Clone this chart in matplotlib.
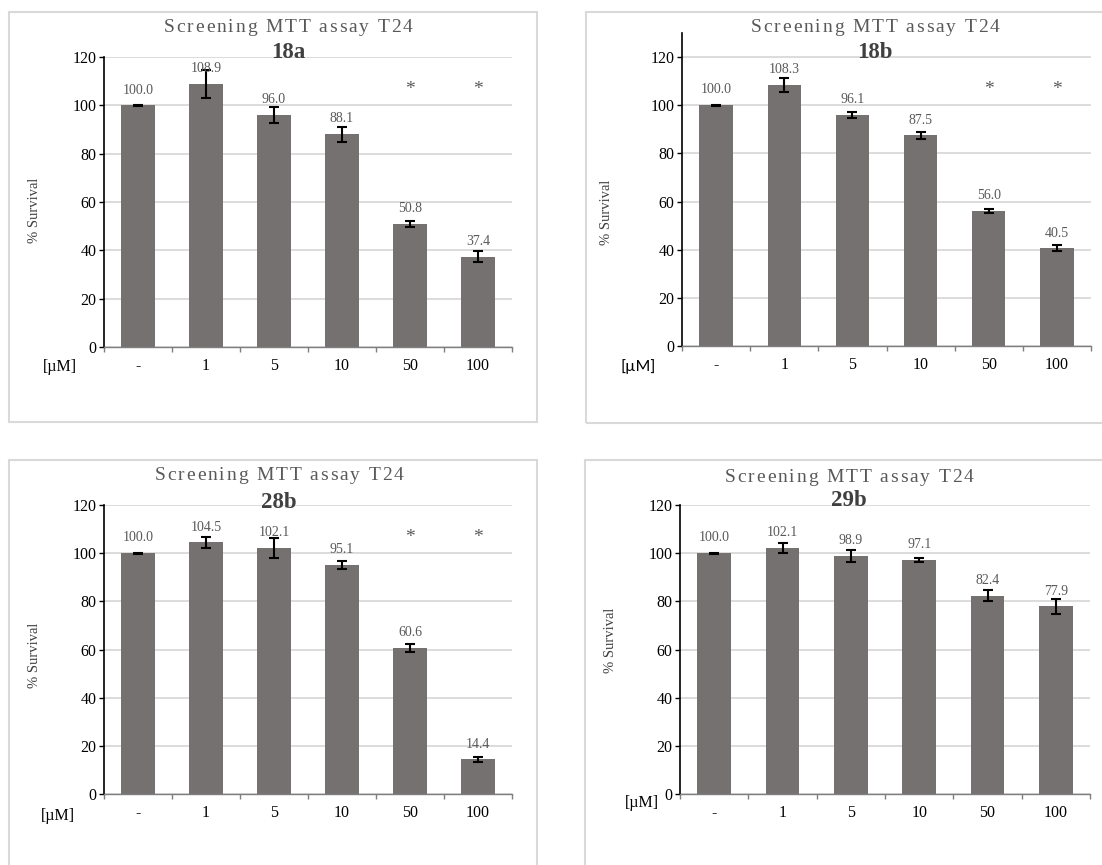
import matplotlib
matplotlib.use('Agg')
import matplotlib.pyplot as plt
from matplotlib.patches import Rectangle
from matplotlib.font_manager import FontProperties
import numpy as np

W, H = 1102, 865

# ---------------- data ----------------
categories = ['-', '1', '5', '10', '50', '100']
compounds = ['18a', '18b', '28b', '29b']
survival_18a = [100.0, 108.9, 96.0, 88.1, 50.8, 37.4]
error_18a = [0.2, 5.9, 3.4, 3.1, 1.2, 2.4]
survival_18b = [100.0, 108.3, 96.1, 87.5, 56.0, 40.5]
error_18b = [0.2, 2.9, 1.25, 1.5, 0.9, 1.25]
survival_28b = [100.0, 104.5, 102.1, 95.1, 60.6, 14.4]
error_28b = [0.2, 2.3, 4.0, 1.5, 1.75, 1.0]
survival_29b = [100.0, 102.1, 98.9, 97.1, 82.4, 77.9]
error_29b = [0.2, 2.2, 2.5, 0.9, 2.2, 3.25]
significant_18a = [False, False, False, False, True, True]
significant_18b = [False, False, False, False, True, True]
significant_28b = [False, False, False, False, True, True]
significant_29b = [False, False, False, False, False, False]
star_level = 104.5
y_ticks = [0, 20, 40, 60, 80, 100, 120]
title_text = 'Screening MTT assay T24'
y_label = '% Survival'
unit_label = '[\u00b5M]'

# ---------------- styles ----------------
BAR = '#767171'
GRID = '#d9d9d9'
FRAME = '#d9d9d9'
LBL = '#595959'
SERIF = 'Liberation Serif'

fig = plt.figure(figsize=(W / 100, H / 100), dpi=100)
renderer = fig.canvas.get_renderer()


def fx(px):
    return px / W


def fy(py):
    return 1 - py / H


def spaced_title(xc, yc, text, target_w, size, color):
    prop = FontProperties(family=SERIF, size=size)
    sent = '|'
    w_sent = renderer.get_text_width_height_descent(sent, prop, ismath=False)[0]
    pos = []
    for i in range(len(text)):
        w = renderer.get_text_width_height_descent(text[:i] + sent, prop, ismath=False)[0] - w_sent
        pos.append(w)
    total_nat = renderer.get_text_width_height_descent(text, prop, ismath=False)[0]
    n = len(text)
    spacing = (target_w - total_nat) / (n - 1)
    x0 = xc - target_w / 2
    for i, ch in enumerate(text):
        if ch == ' ':
            continue
        fig.text(fx(x0 + pos[i] + i * spacing), fy(yc), ch, fontproperties=prop,
                 color=color, ha='left', va='center')


panels = [
    dict(name='18a', vals=survival_18a, err=error_18a, sig=significant_18a,
         box=(104, 512, 347, 57), ymax=120, frame=(9, 12, 537, 422),
         title=(288, 27), sub=(288, 52), ylab=(35, 210), unit=(60, 367), unit_font=SERIF),
    dict(name='18b', vals=survival_18b, err=error_18b, sig=significant_18b,
         box=(682, 1091, 346, 33), ymax=130, frame=(586, 12, 1120, 423),
         title=(875, 28), sub=(875, 53), ylab=(607, 212), unit=(638, 367), unit_font='Lato'),
    dict(name='28b', vals=survival_28b, err=error_28b, sig=significant_28b,
         box=(104, 512, 794, 505), ymax=120, frame=(9, 460, 537, 890),
         title=(279, 475), sub=(279, 502), ylab=(35, 655), unit=(58, 816), unit_font=SERIF),
    dict(name='29b', vals=survival_29b, err=error_29b, sig=significant_29b,
         box=(680, 1090, 794, 505), ymax=120, frame=(585, 460, 1120, 890),
         title=(849, 477), sub=(849, 501), ylab=(610, 640), unit=(642, 803), unit_font=SERIF),
]

for p in panels:
    # frame
    x0, y0, x1, y1 = p['frame']
    fig.add_artist(Rectangle((fx(x0), fy(y1)), fx(x1 - x0), (y1 - y0) / H,
                             transform=fig.transFigure, fill=False,
                             edgecolor=FRAME, linewidth=1.5, zorder=0))
    l, r, b, t = p['box']
    ax = fig.add_axes([fx(l), fy(b), fx(r - l), (b - t) / H])
    ax.set_xlim(-0.5, 5.5)
    ax.set_ylim(0, p['ymax'])
    xs = np.arange(len(categories))
    ax.bar(xs, p['vals'], width=0.49, color=BAR, zorder=2)
    ax.errorbar(xs, p['vals'], yerr=p['err'], fmt='none', ecolor='black',
                elinewidth=1.5, capsize=3.5, capthick=1.5, zorder=3)
    for xi, v in zip(xs, p['vals']):
        ax.annotate(f'{v:.1f}', (xi, v), xytext=(0, 11), textcoords='offset points',
                    ha='center', va='center', fontsize=10, color=LBL, family=SERIF, zorder=4)
    for xi, s in zip(xs, p['sig']):
        if s:
            ax.text(xi, star_level, '*', ha='center', va='baseline', fontsize=14,
                    color=LBL, family=SERIF)
    ax.set_yticks(y_ticks)
    ax.grid(axis='y', color=GRID, linewidth=1.3, zorder=0)
    ax.set_axisbelow(True)
    for s in ['top', 'right']:
        ax.spines[s].set_visible(False)
    ax.spines['left'].set_color('black')
    ax.spines['left'].set_linewidth(1.2)
    ax.spines['bottom'].set_color('#7f7f7f')
    ax.spines['bottom'].set_linewidth(1.0)
    ax.tick_params(axis='y', direction='out', length=3.5, width=1, color='black',
                   labelsize=11.5, pad=2)
    for lab in ax.get_yticklabels():
        lab.set_family(SERIF)
    ax.set_xticks(np.arange(-0.5, 6, 1.0))
    ax.set_xticklabels([])
    ax.tick_params(axis='x', which='major', direction='out', length=3.5, width=1,
                   color='#7f7f7f')
    ax.set_xticks(xs, minor=True)
    ax.set_xticklabels(categories, minor=True, family=SERIF, fontsize=11.5)
    ax.tick_params(axis='x', which='minor', length=0, pad=8)

    spaced_title(p['title'][0], p['title'][1], title_text, 249, 14, LBL)
    fig.text(fx(p['sub'][0]), fy(p['sub'][1]), p['name'], ha='center', va='center',
             fontsize=16.5, fontweight='bold', family=SERIF, color='#404040')
    fig.text(fx(p['ylab'][0]), fy(p['ylab'][1]), y_label, rotation=90, ha='center',
             va='center', fontsize=10.5, family=SERIF, color='#404040')
    fig.text(fx(p['unit'][0]), fy(p['unit'][1]), unit_label, ha='center', va='center',
             fontsize=11.5, family=p['unit_font'], color='black')

fig.savefig('out.png', dpi=100)
